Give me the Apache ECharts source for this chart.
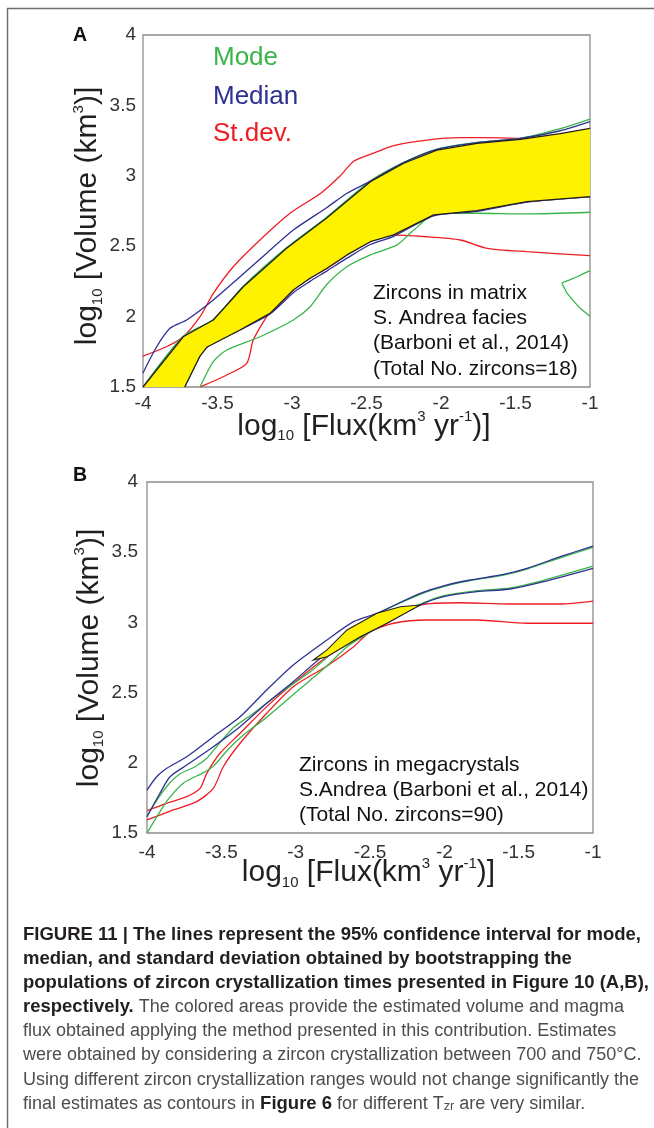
<!DOCTYPE html>
<html><head><meta charset="utf-8">
<script src="https://cdn.jsdelivr.net/npm/echarts@6/dist/echarts.min.js"></script>
<style>html,body{margin:0;padding:0;background:#fff}#c{width:654px;height:1128px}</style>
</head><body><div id="c"></div>
<script>
// ---------- tick labels / names ----------
const xTickLabels = ['-4', '-3.5', '-3', '-2.5', '-2', '-1.5', '-1'];
const yTickLabels = ['1.5', '2', '2.5', '3', '3.5', '4'];
const legendNames = ['Mode', 'Median', 'St.dev.'];
const panelNames = ['A', 'B'];
const notesA = ['Zircons in matrix', 'S. Andrea facies', '(Barboni et al., 2014)', '(Total No. zircons=18)'];
const notesB = ['Zircons in megacrystals', 'S.Andrea (Barboni et al., 2014)', '(Total No. zircons=90)'];

// ---------- Panel A data (x = log10 flux, y = log10 volume) ----------
const A_bandUpX = [-4, -3.73, -3.528, -3.327, -3.036, -2.767, -2.474, -2.25, -2.027, -1.758, -1.468, -1.2, -1];
const A_bandUpY = [1.5, 1.857, 1.976, 2.212, 2.485, 2.70, 2.958, 3.089, 3.183, 3.231, 3.259, 3.30, 3.337];
const A_bandLoX = [-3.72, -3.62, -3.572, -3.349, -3.148, -2.991, -2.879, -2.765, -2.631, -2.474, -2.318, -2.049, -1.758, -1.423, -1];
const A_bandLoY = [1.5, 1.715, 1.782, 1.905, 2.023, 2.189, 2.272, 2.343, 2.438, 2.532, 2.58, 2.722, 2.752, 2.816, 2.852];

const A_medUpX = [-4, -3.908, -3.819, -3.707, -3.528, -3.349, -3.17, -2.991, -2.765, -2.631, -2.474, -2.25, -2.027, -1.758, -1.468, -1.2, -1];
const A_medUpY = [1.6, 1.786, 1.917, 1.976, 2.118, 2.283, 2.45, 2.615, 2.775, 2.876, 2.962, 3.093, 3.187, 3.235, 3.265, 3.32, 3.385];
const A_medLoX = [-3.72, -3.62, -3.572, -3.349, -3.148, -2.991, -2.879, -2.765, -2.631, -2.474, -2.318, -2.049, -1.758, -1.423, -1];
const A_medLoY = [1.5, 1.715, 1.782, 1.905, 2.018, 2.17, 2.25, 2.325, 2.415, 2.512, 2.57, 2.716, 2.748, 2.813, 2.85];

const A_modeUpX = [-4, -3.73, -3.528, -3.327, -3.036, -2.767, -2.474, -2.25, -2.027, -1.758, -1.468, -1.2, -1];
const A_modeUpY = [1.5, 1.86, 1.98, 2.216, 2.49, 2.706, 2.963, 3.095, 3.19, 3.237, 3.266, 3.335, 3.403];
const A_modeLoX = [-3.617, -3.528, -3.438, -3.215, -2.991, -2.879, -2.765, -2.631, -2.474, -2.295, -2.183, -2.027, -1.758, -1.423, -1];
const A_modeLoY = [1.5, 1.68, 1.763, 1.857, 1.976, 2.07, 2.23, 2.354, 2.438, 2.509, 2.615, 2.734, 2.734, 2.729, 2.741];
const A_modeLoopX = [-1, -1.087, -1.15, -1.188, -1.17, -1.154, -1.11, -1.065, -1.02, -1];
const A_modeLoopY = [2.326, 2.283, 2.255, 2.236, 2.2, 2.166, 2.11, 2.059, 2.02, 2.0];

const A_sdUpX = [-4, -3.843, -3.73, -3.617, -3.528, -3.394, -3.215, -3.013, -2.807, -2.676, -2.584, -2.443, -2.318, -2.094, -1.87, -1.6, -1.45];
const A_sdUpY = [1.72, 1.786, 1.857, 1.999, 2.165, 2.354, 2.544, 2.734, 2.876, 3.0, 3.105, 3.165, 3.215, 3.254, 3.271, 3.27, 3.265];
const A_sdLoX = [-3.617, -3.438, -3.304, -3.26, -3.17, -3.148, -2.991, -2.879, -2.765, -2.631, -2.474, -2.362, -2.094, -1.87, -1.69, -1.423, -1];
const A_sdLoY = [1.5, 1.585, 1.668, 1.834, 2.0, 2.023, 2.189, 2.272, 2.343, 2.438, 2.532, 2.58, 2.567, 2.544, 2.485, 2.461, 2.433];

// ---------- Panel B data ----------
const B_lensUpX = [-2.881, -2.789, -2.655, -2.453, -2.296, -2.162];
const B_lensUpY = [2.732, 2.804, 2.946, 3.065, 3.112, 3.124];
const B_lensLoX = [-2.881, -2.789, -2.565, -2.386, -2.162];
const B_lensLoY = [2.732, 2.755, 2.898, 2.994, 3.124];

const B_medUpX = [-4, -3.935, -3.867, -3.733, -3.554, -3.374, -3.195, -3.016, -2.789, -2.61, -2.453, -2.162, -2.004, -1.825, -1.601, -1.444, -1.22, -1];
const B_medUpY = [1.806, 1.901, 1.961, 2.043, 2.186, 2.328, 2.519, 2.697, 2.875, 3.005, 3.065, 3.207, 3.261, 3.302, 3.342, 3.385, 3.468, 3.544];
const B_medLoX = [-4, -3.913, -3.845, -3.733, -3.554, -3.374, -3.195, -3.016, -2.789, -2.565, -2.386, -2.162, -2.004, -1.78, -1.556, -1.332, -1];
const B_medLoY = [1.616, 1.783, 1.901, 1.984, 2.115, 2.257, 2.424, 2.578, 2.78, 2.898, 2.998, 3.124, 3.183, 3.219, 3.238, 3.29, 3.385];

const B_modeUpX = [-4, -3.93, -3.86, -3.78, -3.68, -3.6, -3.52, -3.42, -3.3, -3.1, -2.9, -2.75, -2.6, -2.453, -2.162, -2.004, -1.825, -1.601, -1.444, -1.22, -1];
const B_modeUpY = [1.62, 1.74, 1.84, 1.92, 1.97, 2.03, 2.13, 2.25, 2.34, 2.5, 2.65, 2.79, 2.95, 3.06, 3.2, 3.255, 3.297, 3.337, 3.38, 3.46, 3.535];
const B_modeLoX = [-4, -3.92, -3.85, -3.75, -3.62, -3.55, -3.45, -3.35, -3.2, -3.0, -2.8, -2.65, -2.5, -2.386, -2.162, -2.004, -1.78, -1.556, -1.332, -1];
const B_modeLoY = [1.5, 1.64, 1.75, 1.86, 1.93, 1.98, 2.1, 2.2, 2.32, 2.5, 2.68, 2.83, 2.93, 3.0, 3.13, 3.19, 3.226, 3.246, 3.3, 3.40];

const B_sdUpX = [-4, -3.868, -3.733, -3.643, -3.598, -3.509, -3.374, -3.195, -3.016, -2.789, -2.565, -2.386, -2.162, -1.893, -1.556, -1.22, -1];
const B_sdUpY = [1.659, 1.711, 1.759, 1.818, 1.925, 2.068, 2.21, 2.4, 2.566, 2.755, 2.898, 2.994, 3.124, 3.14, 3.131, 3.131, 3.152];
const B_sdLoX = [-4, -3.823, -3.666, -3.554, -3.487, -3.374, -3.195, -3.016, -2.789, -2.61, -2.498, -2.341, -2.117, -1.78, -1.444, -1];
const B_sdLoY = [1.593, 1.664, 1.723, 1.818, 1.972, 2.139, 2.353, 2.542, 2.69, 2.827, 2.934, 2.994, 3.017, 3.017, 2.994, 2.994];

// ---------- caption ----------
const captionLines = [
  '{b|FIGURE 11 | The lines represent the 95% confidence interval for mode,}',
  '{b|median, and standard deviation obtained by bootstrapping the}',
  '{b|populations of zircon crystallization times presented in Figure 10 (A,B),}',
  '{b|respectively.} The colored areas provide the estimated volume and magma',
  'flux obtained applying the method presented in this contribution. Estimates',
  'were obtained by considering a zircon crystallization between 700 and 750°C.',
  'Using different zircon crystallization ranges would not change significantly the',
  'final estimates as contours in {b|Figure 6} for different T{s|zr} are very similar.'
];

// ---------- build ----------
const FONT = '"Liberation Sans", Arial, Helvetica, sans-serif';
const GREEN = '#3ab54a', BLUE = '#2e3192', RED = '#ee1d23', INK = '#231f20';
const zip = (xs, ys) => xs.map((x, i) => [x, ys[i]]);

function measure(text, weight, size) {
  const c = document.createElement('canvas').getContext('2d');
  c.font = weight + ' ' + size + 'px ' + FONT;
  return c.measureText(text).width;
}
const capBoldSize = 100 * 618 / measure('FIGURE 11 | The lines represent the 95% confidence interval for mode,', 'bold', 100);
const capRegSize = 100 * 619 / measure('were obtained by considering a zircon crystallization between 700 and 750°C.', 'normal', 100);

function line(gi, xs, ys, color, smooth) {
  return {
    type: 'line', xAxisIndex: gi, yAxisIndex: gi, data: zip(xs, ys),
    showSymbol: false, smooth: smooth === undefined ? 0.25 : smooth, z: 2, silent: true,
    lineStyle: { color: color, width: 1.3 }, clip: true
  };
}
function poly(gi, pts, stroke) {
  return {
    type: 'custom', xAxisIndex: gi, yAxisIndex: gi, z: 3, silent: true, clip: true,
    data: [[pts[0][0], pts[0][1]]],
    renderItem: (params, api) => ({
      type: 'polygon',
      shape: { points: pts.map(p => api.coord(p)) },
      style: { fill: '#fff200', stroke: stroke ? INK : null, lineWidth: 1.1 }
    })
  };
}
const polyA = zip(A_bandUpX, A_bandUpY).concat(zip(A_bandLoX, A_bandLoY).reverse());
const polyB = zip(B_lensUpX, B_lensUpY).concat(zip(B_lensLoX, B_lensLoY).reverse().slice(1));

function axisPair(gi, margX, margY) {
  return {
    x: {
      type: 'value', gridIndex: gi, min: -4, max: -1, interval: 0.5,
      axisLine: { show: false }, axisTick: { show: false }, splitLine: { show: false },
      axisLabel: { color: '#333', fontSize: 19, fontFamily: FONT, margin: margX,
        formatter: v => xTickLabels[Math.round((v + 4) / 0.5)] }
    },
    y: {
      type: 'value', gridIndex: gi, min: 1.5, max: 4, interval: 0.5,
      axisLine: { show: false }, axisTick: { show: false }, splitLine: { show: false },
      axisLabel: { color: '#333', fontSize: 19, fontFamily: FONT, margin: margY,
        formatter: v => yTickLabels[Math.round((v - 1.5) / 0.5)] }
    }
  };
}
const axA = axisPair(0, 7, 7), axB = axisPair(1, 10, 9);

const titleRich = {
  sub: { fontSize: 15, fontFamily: FONT, fill: INK, lineHeight: 8, verticalAlign: 'bottom' },
  sup: { fontSize: 15, fontFamily: FONT, fill: INK, lineHeight: 23, verticalAlign: 'top' }
};
function axisTitle(x, y, text, rot) {
  return {
    type: 'text', x: x, y: y, rotation: rot, silent: true,
    style: { text: text, fontSize: 30, fontFamily: FONT, fill: INK, lineHeight: 34,
      align: 'center', verticalAlign: 'middle', rich: titleRich }
  };
}
function plainText(x, y, text, size, color, weight) {
  return { type: 'text', x: x, y: y, silent: true,
    style: { text: text, fontSize: size, fontFamily: FONT, fill: color, fontWeight: weight || 'normal',
      align: 'left', verticalAlign: 'middle' } };
}

const graphics = [
  { type: 'line', silent: true, shape: { x1: 7, y1: 8.5, x2: 654, y2: 8.5 }, style: { stroke: '#6d6e70', lineWidth: 1.5 } },
  { type: 'line', silent: true, shape: { x1: 7.5, y1: 8, x2: 7.5, y2: 1128 }, style: { stroke: '#6d6e70', lineWidth: 1.5 } },
  plainText(73, 35.5, panelNames[0], 19.5, '#111', 'bold'),
  plainText(73, 475.5, panelNames[1], 19.5, '#111', 'bold'),
  plainText(213, 58, legendNames[0], 26, GREEN),
  plainText(213, 96.7, legendNames[1], 26, BLUE),
  plainText(213, 134, legendNames[2], 26, RED),
  axisTitle(88, 216, 'log{sub|10} [Volume (km{sup|3})]', Math.PI / 2),
  axisTitle(89.5, 658, 'log{sub|10} [Volume (km{sup|3})]', Math.PI / 2),
  axisTitle(364, 426.5, 'log{sub|10} [Flux(km{sup|3} yr{sup|-1})]', 0),
  axisTitle(368.5, 873, 'log{sub|10} [Flux(km{sup|3} yr{sup|-1})]', 0)
];
notesA.forEach((t, i) => graphics.push(plainText(373, 293 + i * 25.3, t, 21, '#111')));
notesB.forEach((t, i) => graphics.push(plainText(299, 765 + i * 25, t, 21, '#111')));
captionLines.forEach((t, i) => graphics.push({
  type: 'text', x: 23, y: 935 + i * 24.1, silent: true,
  style: {
    text: t, fontSize: capRegSize, fontFamily: FONT, fill: '#4d4d4f', align: 'left', verticalAlign: 'middle',
    rich: {
      b: { fontSize: capBoldSize, fontFamily: FONT, fontWeight: 'bold', fill: INK },
      s: { fontSize: capRegSize * 0.7, fontFamily: FONT, fill: '#4d4d4f', lineHeight: 6, verticalAlign: 'bottom' }
    }
  }
}));

const option = {
  backgroundColor: '#fff',
  animation: false,
  grid: [
    { left: 143, top: 35, width: 447, height: 352, show: true, borderColor: '#8c8c8c', borderWidth: 1.3, backgroundColor: 'transparent' },
    { left: 147, top: 482, width: 446, height: 351, show: true, borderColor: '#8c8c8c', borderWidth: 1.3, backgroundColor: 'transparent' }
  ],
  xAxis: [axA.x, axB.x],
  yAxis: [axA.y, axB.y],
  series: [
    // Panel A
    line(0, A_sdUpX, A_sdUpY, RED),
    line(0, A_sdLoX, A_sdLoY, RED),
    line(0, A_modeUpX, A_modeUpY, GREEN),
    line(0, A_modeLoX, A_modeLoY, GREEN),
    line(0, A_modeLoopX, A_modeLoopY, GREEN),
    line(0, A_medUpX, A_medUpY, BLUE),
    line(0, A_medLoX, A_medLoY, BLUE),
    poly(0, polyA, false),
    Object.assign(line(0, A_bandUpX, A_bandUpY, INK, false), { z: 4 }),
    Object.assign(line(0, A_bandLoX, A_bandLoY, INK, false), { z: 4 }),
    // Panel B
    line(1, B_sdUpX, B_sdUpY, RED),
    line(1, B_sdLoX, B_sdLoY, RED),
    line(1, B_modeUpX, B_modeUpY, GREEN),
    line(1, B_modeLoX, B_modeLoY, GREEN),
    line(1, B_medUpX, B_medUpY, BLUE),
    line(1, B_medLoX, B_medLoY, BLUE),
    poly(1, polyB, true)
  ],
  graphic: graphics
};
const chart = echarts.init(document.getElementById('c'), null, { renderer: 'canvas', width: 654, height: 1128 });
chart.setOption(option);
</script>
</body></html>
